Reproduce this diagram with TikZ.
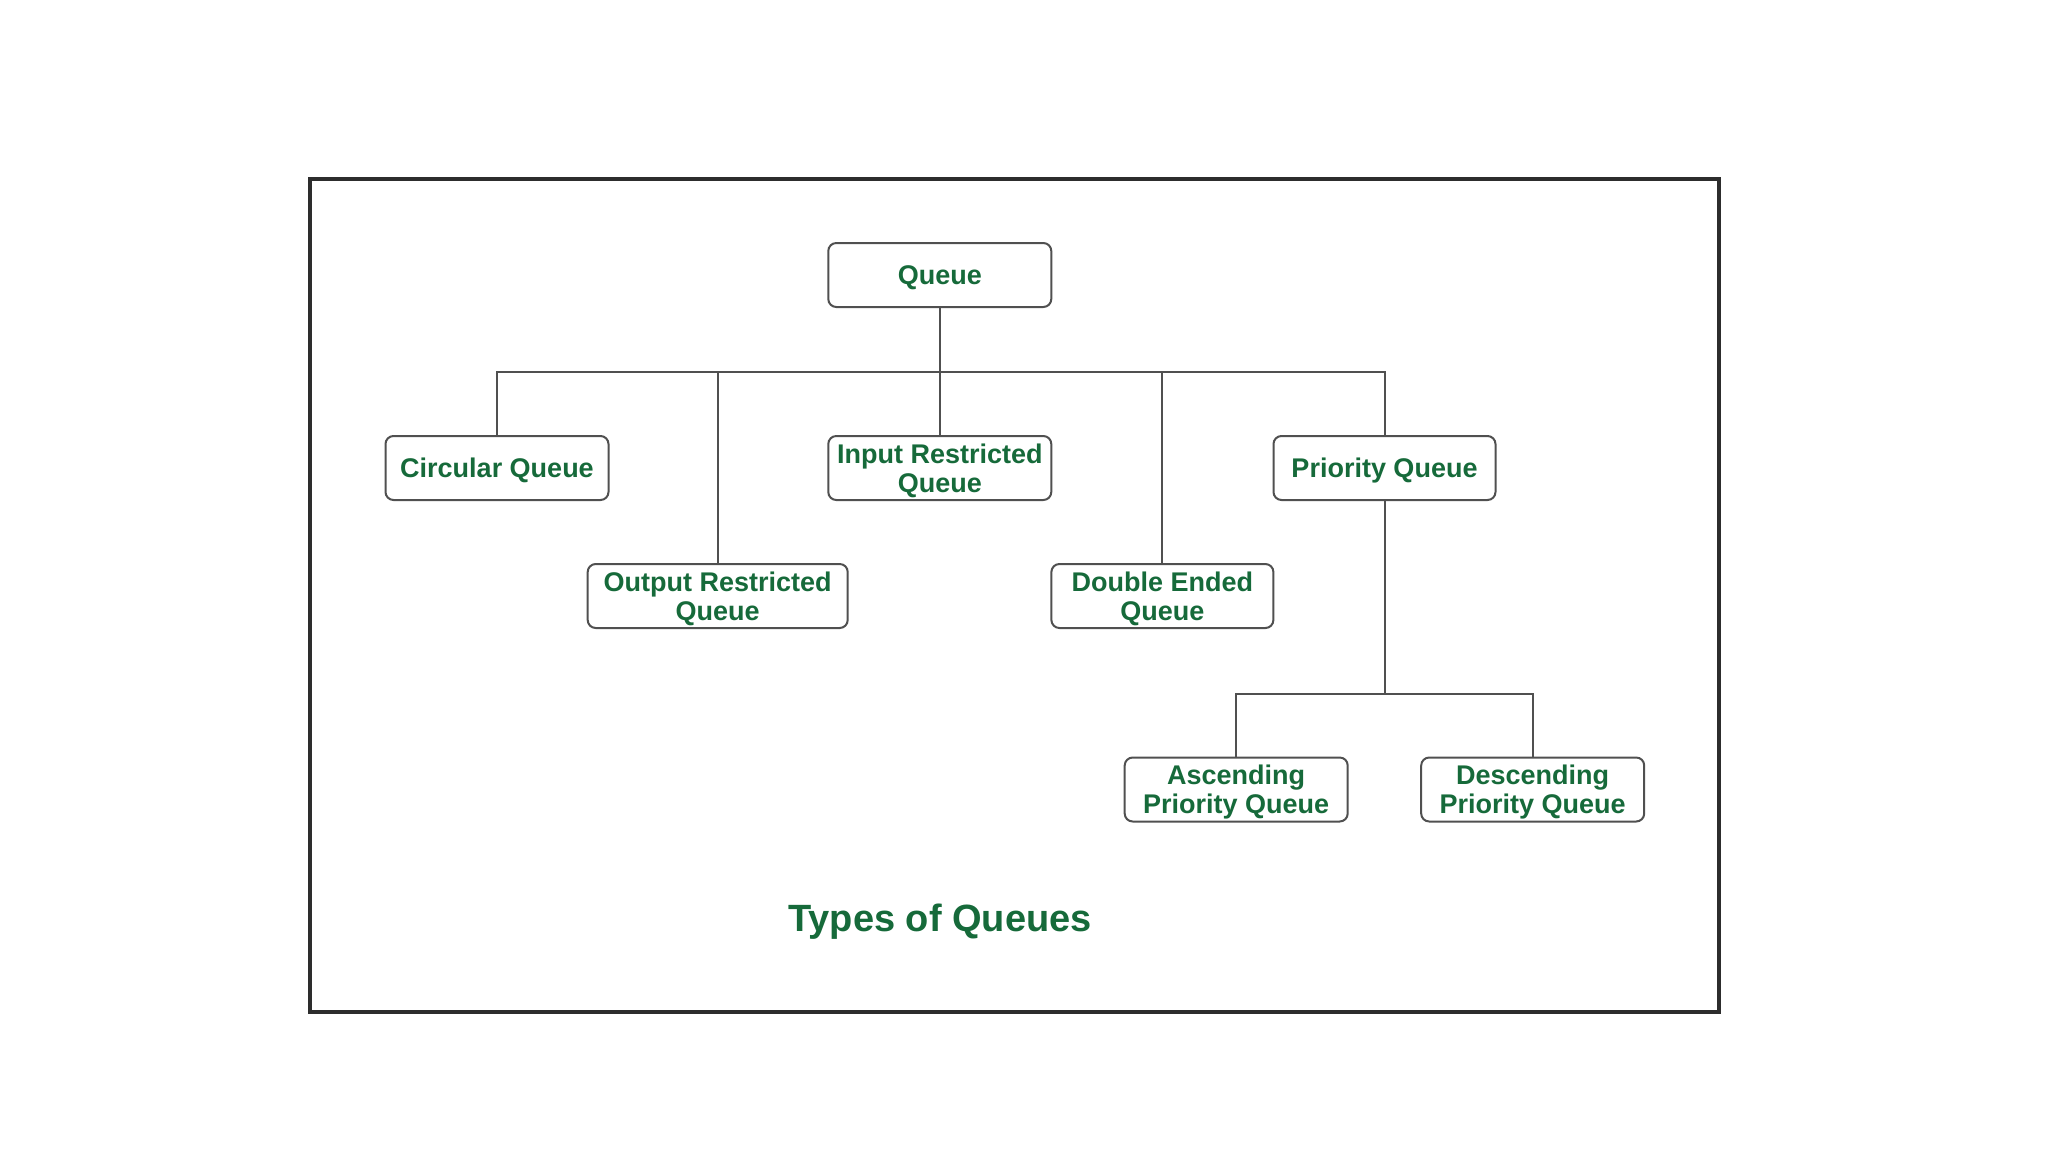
\documentclass[tikz,border=0pt]{standalone}
\usepackage{fontspec}
\setmainfont{Liberation Sans}
\definecolor{qgreen}{RGB}{22,106,58}
\definecolor{qline}{RGB}{80,80,80}
\definecolor{qframe}{RGB}{45,45,45}
\begin{document}
\begin{tikzpicture}[x=1pt,y=-1pt,
  qbox/.style={draw=qline, line width=2pt, rounded corners=8pt, fill=white,
    inner sep=0pt, minimum height=64pt, align=center, text=qgreen,
    font=\fontsize{27}{29}\selectfont\bfseries, text height=19.5pt, text depth=0pt},
  qbox2/.style={qbox, text height=48.3pt},
  conn/.style={draw=qline, line width=2pt}]
\useasboundingbox[fill=white] (0,0) rectangle (2048,1152);
\draw[qframe, line width=4pt] (309.6,178.9) rectangle (1718.9,1012.2);
\node[qbox, minimum width=223pt] (queue) at (939.8,275) {Queue};
\node[qbox, minimum width=223pt] (circ) at (497,468) {Circular Queue};
\node[qbox2, minimum width=223pt] (input) at (939.8,468) {Input Restricted\\Queue};
\node[qbox, minimum width=222pt] (prio) at (1384.5,468) {Priority Queue};
\node[qbox2, minimum width=260pt] (outr) at (717.7,596) {Output Restricted\\Queue};
\node[qbox2, minimum width=222pt] (dbl) at (1162.4,596) {Double Ended\\Queue};
\node[qbox2, minimum width=223pt] (asc) at (1236.2,789.5) {Ascending\\Priority Queue};
\node[qbox2, minimum width=223pt] (desc) at (1532.7,789.5) {Descending\\Priority Queue};
\coordinate (b1) at (939.8,372.2);
\coordinate (b2) at (1384.5,693.5);
\draw[conn] (queue.south) -- (input.north);
\draw[conn] (circ.north) |- (b1) -| (prio.north);
\draw[conn] (outr.north) -- (outr.north |- b1);
\draw[conn] (dbl.north) -- (dbl.north |- b1);
\draw[conn] (prio.south) -- (b2);
\draw[conn] (asc.north) |- (b2) -| (desc.north);
\node[text=qgreen, font=\fontsize{38}{40}\selectfont\bfseries, inner sep=0pt] (title) at (940,922) {Types of Queues};
\end{tikzpicture}
\end{document}
